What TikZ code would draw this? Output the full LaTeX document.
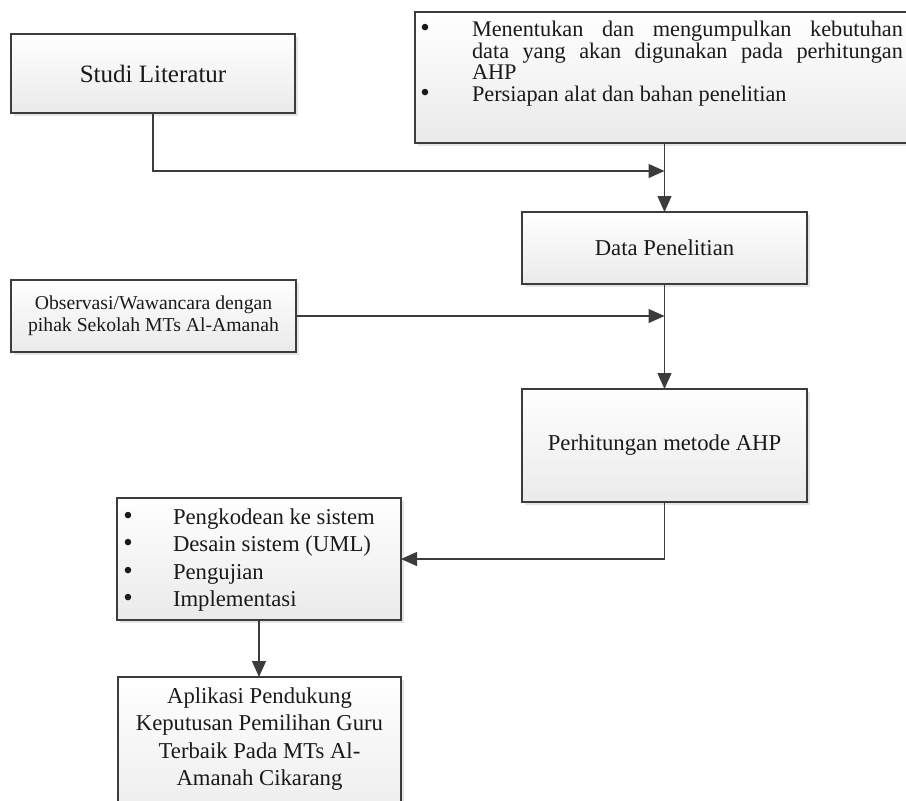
\documentclass[tikz,border=0pt]{standalone}
\usepackage{fontspec}
\setmainfont{Liberation Serif}
\usetikzlibrary{arrows.meta,shadows,calc}
\definecolor{lineclr}{HTML}{3C3C3C}
\definecolor{botclr}{HTML}{EAEAEA}
\definecolor{txtclr}{HTML}{1A1A1A}
\newcommand\fsStudi{\fontsize{25}{30}\selectfont}
\newcommand\fsMain{\fontsize{22.7}{27.4}\selectfont}
\newcommand\fsObs{\fontsize{19.7}{22.5}\selectfont}
\newcommand\fsTop{\fontsize{22.3}{21.5}\selectfont}
\newcommand\fsBul{\fontsize{27}{27}\selectfont}
\begin{document}
\begin{tikzpicture}[x=1pt,y=-1pt,
  boxstyle/.style={draw=lineclr, line width=1.3pt, top color=white, bottom color=botclr,
    drop shadow={shadow xshift=3pt, shadow yshift=-3pt, fill=black!20},
    inner sep=0pt, outer sep=0pt, text=txtclr},
  txt/.style={inner sep=0pt, outer sep=0pt, text=txtclr},
  lineL/.style={txt, anchor=base west},
  bul/.style={txt, anchor=base, font=\fsBul},
  conn/.style={draw=lineclr, line width=1.3pt},
  arr/.style={conn, -{Triangle[length=16pt,width=14pt]}}]
\useasboundingbox (0,0) rectangle (906,801);
\clip (0,0) rectangle (906,801);

% boxes
\node[boxstyle, minimum width=284pt, minimum height=79pt, font=\fsStudi] (studi) at (153,73.5) {Studi Literatur};
\node[boxstyle, minimum width=520pt, minimum height=131pt] (persiapan) at (675,77.5) {};
\node[boxstyle, minimum width=285pt, minimum height=72pt, font=\fsMain] (data) at (664.5,248) {Data Penelitian};
\node[boxstyle, minimum width=285pt, minimum height=72pt, font=\fsObs, align=center] (obs) at (153.5,316) {Observasi/Wawancara dengan\\pihak Sekolah MTs Al-Amanah};
\node[boxstyle, minimum width=285pt, minimum height=113pt, font=\fsMain] (perh) at (664.5,445.5) {Perhitungan metode AHP};
\node[boxstyle, minimum width=284pt, minimum height=122pt] (bullets) at (259,559) {};
\node[boxstyle, minimum width=283pt, minimum height=163pt] (final) at (259.5,758.5) {};

% top list
\node[bul] (tb1) at (425,36.5) {\textbullet};
\node[lineL, font=\fsTop] (tl1) at (472,36.5) {\makebox[431pt][s]{Menentukan dan mengumpulkan kebutuhan}};
\node[lineL, font=\fsTop] (tl2) at (472,58) {\makebox[431pt][s]{data yang akan digunakan pada perhitungan}};
\node[lineL, font=\fsTop] (tl3) at (472,79.5) {AHP};
\node[bul] (tb2) at (425,101) {\textbullet};
\node[lineL, font=\fsTop] (tl4) at (472,101) {Persiapan alat dan bahan penelitian};

% bullet list
\node[bul] (bb1) at (128,524) {\textbullet};
\node[lineL, font=\fsMain] (bl1) at (173,524) {Pengkodean ke sistem};
\node[bul] (bb2) at (128,551.5) {\textbullet};
\node[lineL, font=\fsMain] (bl2) at (173,551.5) {Desain sistem (UML)};
\node[bul] (bb3) at (128,579) {\textbullet};
\node[lineL, font=\fsMain] (bl3) at (173,579) {Pengujian};
\node[bul] (bb4) at (128,606.5) {\textbullet};
\node[lineL, font=\fsMain] (bl4) at (173,606.5) {Implementasi};

% final text
\node[txt, anchor=base, font=\fsMain] (f1) at (259.5,703) {Aplikasi Pendukung};
\node[txt, anchor=base, font=\fsMain] (f2) at (259.5,730.5) {Keputusan Pemilihan Guru};
\node[txt, anchor=base, font=\fsMain] (f3) at (259.5,758) {Terbaik Pada MTs Al-};
\node[txt, anchor=base, font=\fsMain] (f4) at (259.5,785.5) {Amanah Cikarang};

% connectors
\coordinate (j1) at (664.5,171);
\coordinate (j2) at (664.5,316);
\draw[conn] (persiapan.south -| j1) -- (j1);
\draw[arr] (studi.south) |- (j1);
\draw[arr] (j1) -- (data.north);
\draw[arr] (data.south) -- (perh.north);
\draw[arr] (obs.east) -- (j2);
\draw[arr] (perh.south) |- (bullets.east);
\draw[arr] (bullets.south) -- (bullets.south |- final.north);
\end{tikzpicture}
\end{document}
